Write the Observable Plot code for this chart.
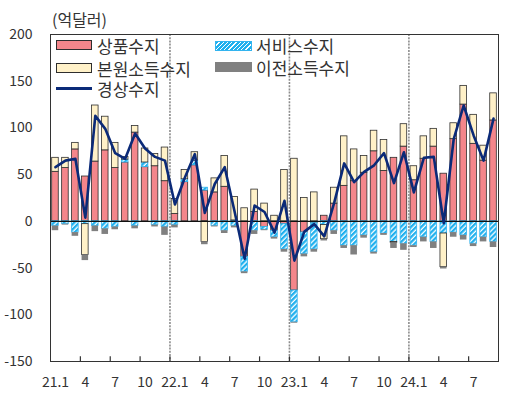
<!DOCTYPE html>
<html><head><meta charset="utf-8">
<script src="https://cdn.jsdelivr.net/npm/d3@7"></script>
<script src="https://cdn.jsdelivr.net/npm/@observablehq/plot@0.6"></script>
<style>
body{margin:0;background:#fff;font-family:"Noto Sans CJK KR","Noto Sans",sans-serif;}
#wrap{position:relative;width:512px;height:397px;overflow:hidden;}
#wrap svg{position:absolute;left:0;top:0;}
.t{position:absolute;color:#333;font-size:17px;line-height:17px;white-space:nowrap;}
.sw{position:absolute;box-sizing:border-box;}
</style></head><body><div id="wrap"></div>
<script>
const months = ["21.1","21.2","21.3","21.4","21.5","21.6","21.7","21.8","21.9","21.10","21.11","21.12",
"22.1","22.2","22.3","22.4","22.5","22.6","22.7","22.8","22.9","22.10","22.11","22.12",
"23.1","23.2","23.3","23.4","23.5","23.6","23.7","23.8","23.9","23.10","23.11","23.12",
"24.1","24.2","24.3","24.4","24.5","24.6","24.7","24.8","24.9"];
const goods    = [53,57,77,48,64,76,57,63,95,58,59,43, 8,42,60,33,31,37,1,-38,10,-6,-10,-3, -74,-12,-2,6,19,38,43,52,75,54,68,80, 44,67,80,51,88,125,83,65,108];
const services = [-5,-3,-12,-3,-5,-8,-6,3,-5,5,-4,-6, -4,3,5,3,-5,-10,-5,-16,-10,-3,-7,-27, -34,-23,-28,-4,-10,-26,-26,-15,-33,-13,-22,-24, -26,-17,-22,-13,-12,-15,-24,-17,-22];
const primary  = [15,11,7,-33,60,36,27,3,7,15,13,36, 16,10,9,-22,15,33,25,14,24,19,6,55, 67,25,31,-15,17,53,34,18,22,33,-1,24, 15,24,19,-36,17,20,31,16,29];
const transfer = [-5,-1,-4,-6,-6,-6,-3,-1,-3,-1,-2,-9, -3,-1,-1,-3,-1,-3,-2,-2,-4,-1,-2,-3, -1,-3,-3,-2,-4,-3,-10,-3,-2,-2,-6,-7, -2,-5,-7,-2,-5,-5,-3,-5,-6];
const current  = [58,65,67,4,113,99,73,67,94,78,69,65, 18,47,72,9,40,58,10,-40,17,10,-12,22, -42,-11,-3,-16,20,62,42,53,60,73,41,74, 31,68,69,-2,88,124,92,65,110];
const seriesNames = ["상품수지","서비스수지","본원소득수지","이전소득수지"];
const lineName = "경상수지";
const tickMonths = ["21.1","21.4","21.7","21.10","22.1","22.4","22.7","22.10","23.1","23.4","23.7","23.10","24.1","24.4","24.7"];
const tickLabels = ["21.1","4","7","10","22.1","4","7","10","23.1","4","7","10","24.1","4","7"];
const yearStarts = ["22.1","23.1","24.1"];
const yTicks = [-150,-100,-50,0,50,100,150,200];
const unitLabel = "(억달러)";

const fillOf = {"상품수지":"#f4868b","서비스수지":"url(#hatch)","본원소득수지":"#fff1c8","이전소득수지":"#808080"};
const strokeOf = {"상품수지":"#2e2e2e","서비스수지":"#33b4ef","본원소득수지":"#2e2e2e","이전소득수지":"none"};
const seriesVals = [goods, services, primary, transfer];
const table = months.flatMap((m,i) => seriesNames.map((s,j) => ({month:m, series:s, value:seriesVals[j][i]})));
const lineData = months.map((m,i) => ({month:m, value:current[i]}));
const step = 448/months.length;
const labelOf = new Map(tickMonths.map((m,i)=>[m,tickLabels[i]]));

const svg = Plot.plot({
  width:512, height:397,
  marginTop:34, marginBottom:36, marginLeft:50, marginRight:14,
  style:{fontFamily:'"Noto Sans CJK KR","Noto Sans",sans-serif', fontSize:"14px", color:"#333", background:"transparent"},
  x:{type:"band", domain:months, paddingInner:0.34, paddingOuter:0.17, axis:null},
  y:{domain:[-150,200], axis:null},
  marks:[
    Plot.barY(table, Plot.stackY({x:"month", y:"value", fill:d=>fillOf[d.series], stroke:d=>strokeOf[d.series], strokeWidth:0.8})),
    Plot.ruleY([0], {stroke:"#111", strokeWidth:1.2}),
    Plot.ruleX(yearStarts, {x:d=>d, dx:-step/2, stroke:"#8c8c8c", strokeWidth:1.6, strokeDasharray:"2,1.2"}),
    Plot.ruleX(tickMonths.slice(1), {x:d=>d, y1:-150, y2:-145, dx:-step/2, stroke:"#333", strokeWidth:1.2}),
    Plot.lineY(lineData, {x:"month", y:"value", stroke:"#0b2a78", strokeWidth:2.6, strokeLinejoin:"round"}),
    Plot.frame({stroke:"#333", strokeWidth:1}),
    Plot.axisY({ticks:yTicks, tickSize:0, tickPadding:18, fontSize:14, label:null, tickFormat:d=>String(d)}),
    Plot.axisX({ticks:tickMonths, tickSize:0, tickPadding:16, fontSize:14, label:null, tickFormat:d=>labelOf.get(d)})
  ]
});
const ns = "http://www.w3.org/2000/svg";
const defs = document.createElementNS(ns, "defs");
defs.innerHTML = '<pattern id="hatch" patternUnits="userSpaceOnUse" width="3.6" height="3.6" patternTransform="rotate(45)"><rect width="3.6" height="3.6" fill="#ffffff"/><rect width="2.3" height="3.6" fill="#1fb0ee"/></pattern>';
svg.insertBefore(defs, svg.firstChild);
const wrap = document.getElementById("wrap");
wrap.appendChild(svg);

function addText(txt, left, top, size){
  const d = document.createElement("div"); d.className="t"; d.textContent=txt;
  d.style.left=left+"px"; d.style.top=top+"px"; if(size){d.style.fontSize=size+"px";d.style.lineHeight=size+"px";}
  wrap.appendChild(d);
}
function addSwatch(left, top, w, h, css){
  const d = document.createElement("div"); d.className="sw";
  d.style.left=left+"px"; d.style.top=top+"px"; d.style.width=w+"px"; d.style.height=h+"px";
  Object.assign(d.style, css); wrap.appendChild(d);
}
addText(unitLabel, 52, 11, 16);
addSwatch(56,40,36,10,{background:"#f4868b", border:"1px solid #2e2e2e"});
addText(seriesNames[0], 97, 37);
addSwatch(56,63,36,10,{background:"#fff1c8", border:"1px solid #2e2e2e"});
addText(seriesNames[2], 97, 60);
addSwatch(56,87,36,3,{background:"#0b2a78"});
addText(lineName, 97, 80);
addSwatch(215,41,37,10,{background:"repeating-linear-gradient(135deg,#1fb0ee 0 2px,#fff 2px 3px)", border:"1px solid #33b4ef"});
addText(seriesNames[1], 256, 37);
addSwatch(215,62,37,10,{background:"#808080"});
addText(seriesNames[3], 256, 59);
</script></body></html>
